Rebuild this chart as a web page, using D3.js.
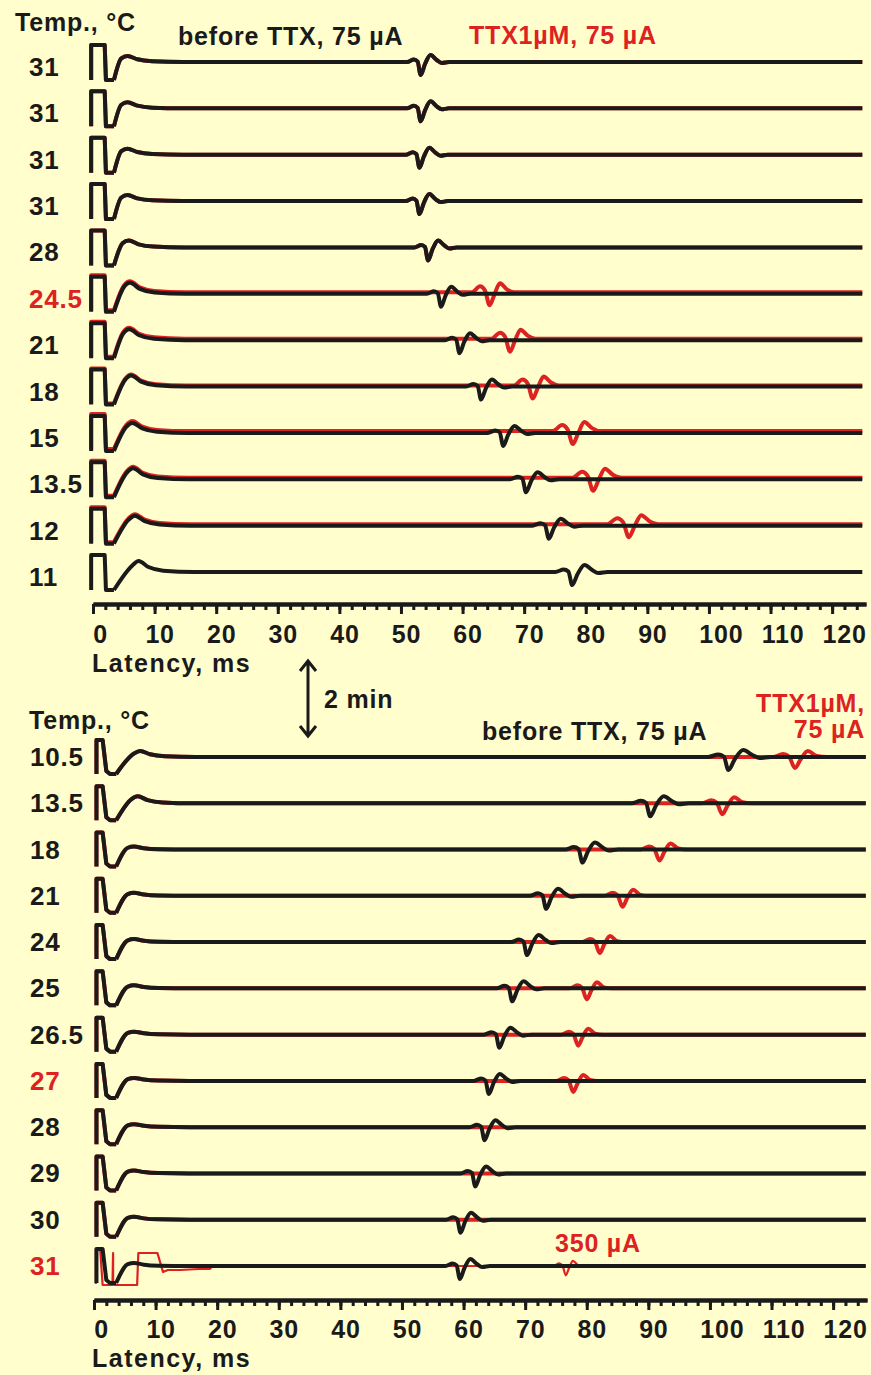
<!DOCTYPE html>
<html>
<head>
<meta charset="utf-8">
<script src="https://cdn.jsdelivr.net/npm/d3@7"></script>
<style>
body { margin: 0; background: #fffecc; }
svg { display: block; }
text { font-family: "Liberation Sans", Arial, Helvetica, sans-serif; font-weight: bold; letter-spacing: 0.8px; }
</style>
</head>
<body>
<div id="chart"></div>
<script>
// temperatures (row labels) and spike latencies, ms
var topTemps = ['31','31','31','31','28','24.5','21','18','15','13.5','12','11'];
var topLatBefore = [53.2, 53.2, 53, 53, 54.4, 56.5, 59.5, 63, 66.6, 70.3, 74, 77.8];
var topLatTTX = [53.2, 53.2, 53, 53, 54.4, 64.4, 67.7, 71.4, 77.9, 81.2, 87, null];
var topBump = [6, 6, 6, 6, 7, 11, 11, 11, 10, 11, 10, 11];
var topBumpAt = [5.6, 5.6, 5.6, 5.6, 5.8, 6.0, 5.9, 6.2, 6.4, 6.5, 6.8, 7.4];
var topRedShift = [0, 0, 0, 0, 0, 1.5, 1.5, 1, 1.8, 1.5, 1.5, 0];
var topRedRows = [5];

var botTemps = ['10.5','13.5','18','21','24','25','26.5','27','28','29','30','31'];
var botLatBefore = [103, 90.3, 79.3, 73.4, 70.3, 67.9, 65.8, 64.1, 63.4, 61.9, 59.5, 59.4];
var botLatTTX = [113.8, 102, 91.8, 85.8, 82.1, 80, 78.6, 77.8, null, null, null, 76.6];
var botBump = [6, 7, 3, 3, 3, 3, 3, 3, 3, 3, 3, 3];
var botBumpAt = [7.5, 7.1, 6.5, 6.5, 6.5, 6.5, 6.5, 6.5, 6.5, 6.5, 6.5, 6.5];
var botRedRows = [7, 11];

var majorTicks = d3.range(0, 121, 10);
var minorTicks = d3.range(0, 125, 2);

// waveform shapes: [ms, amplitude]
var artTop = [[-0.3,-18],[-0.3,17],[1.9,17],[2.1,-18],[3.4,-18]];
var artBot = [[0.4,-17],[0.4,17],[1.4,17],[2.0,-14],[2.6,-17],[3.6,-17]];
var art350 = [[0.3,-18],[0.3,17],[1.0,17],[1.4,-19],[3.0,-19],[3.1,13],[3.1,-19],[7.0,-19],[7.2,13],[10.3,13],[11.2,-6],[12,-4],[14,-4],[17,-3],[18.8,-3],[19.2,0]];
var spikeBlack = [[-2.2,0],[-1.1,2.5],[-0.5,0.5],[0,-13],[0.7,-2],[1.6,7],[2.6,2],[3.4,-1],[4.6,0]];
var spikeRedTop = [[-2.6,0],[-1.4,6],[-0.7,2],[0,-13],[0.7,-2],[1.5,9],[2.5,3],[3.6,0]];
var spikeRedBot = [[-2.2,0],[-1.2,3],[-0.6,0.5],[0,-11],[0.6,-2],[1.3,6],[2.2,1],[3.2,0]];

var red = '#dd2222';
var ink = '#1a1a1a';

var svg = d3.select('#chart').append('svg').attr('width', 871).attr('height', 1375);
svg.append('rect').attr('width', 871).attr('height', 1375).attr('fill', '#fffecc');

var amp = d3.scaleLinear().domain([-20, 20]).range([20, -20]);

function smoothPart(lastArt, bump, bumpAt, lat, tpl, tEnd) {
    var w = lat == null ? 1 : 1 + (lat - 53) / 100;
    var pts = [lastArt,
        [bumpAt - 1.0, bump * 0.6],
        [bumpAt, bump],
        [bumpAt + 1.6, bump * 0.45],
        [bumpAt + 4, bump * 0.12],
        [bumpAt + 9, 0]];
    if (lat != null) {
        tpl.forEach(function (p) { pts.push([lat + p[0] * w, p[1]]); });
    }
    pts.push([tEnd, 0]);
    return pts;
}

function drawPanel(opt) {
    var x = opt.x;
    var rowY = d3.scaleLinear().domain([0, 11]).range(opt.rows);
    var lineArt = d3.line().x(d => x(d[0])).y(d => amp(d[1]));
    var lineSm = d3.line().x(d => x(d[0])).y(d => amp(d[1])).curve(d3.curveMonotoneX);

    opt.temps.forEach(function (t, i) {
        var g = svg.append('g').attr('transform', `translate(0,${rowY(i)})`);
        var shift = opt.redShift ? opt.redShift[i] : 0;
        var gr = g.append('g').attr('transform', `translate(0,${-shift})`);
        var art = opt.art;
        var redTpl = opt.latT[i] == opt.latB[i] ? spikeBlack : opt.redSpike;
        if (!(opt.topNoRed && i == 11)) {
            if (opt.special350 && i == 11) {
                var pts = [art350[art350.length - 1], [opt.latT[i] - 2.6, 0]];
                spikeRedBot.forEach(p => pts.push([opt.latT[i] + p[0] * 0.9, p[1] * 0.85]));
                pts.push([opt.tEnd, 0]);
                gr.append('path').attr('d', lineArt(art350)).attr('fill', 'none')
                    .attr('stroke', red).attr('stroke-width', 2.2).attr('stroke-linejoin', 'round');
                gr.append('path').attr('d', lineSm(pts)).attr('fill', 'none')
                    .attr('stroke', red).attr('stroke-width', 2.2).attr('stroke-linejoin', 'round');
            } else {
                gr.append('path').attr('d', lineArt(art)).attr('fill', 'none')
                    .attr('stroke', red).attr('stroke-width', 4).attr('stroke-linejoin', 'round');
                gr.append('path').attr('d', lineSm(smoothPart(art[art.length - 1], opt.bump[i], opt.bumpAt[i], opt.latT[i], redTpl, opt.tEnd)))
                    .attr('fill', 'none').attr('stroke', red).attr('stroke-width', 4).attr('stroke-linejoin', 'round');
            }
        }
        g.append('path').attr('d', lineArt(art)).attr('fill', 'none')
            .attr('stroke', ink).attr('stroke-width', 4).attr('stroke-linejoin', 'round');
        g.append('path').attr('d', lineSm(smoothPart(art[art.length - 1], opt.bump[i], opt.bumpAt[i], opt.latB[i], spikeBlack, opt.tEnd)))
            .attr('fill', 'none').attr('stroke', ink).attr('stroke-width', 4).attr('stroke-linejoin', 'round');

        svg.append('text').attr('x', opt.labelX).attr('y', rowY(i) + opt.labelDy)
            .attr('font-size', 26).attr('fill', opt.redRows.indexOf(i) >= 0 ? red : ink).text(t);
    });

    var ax = svg.append('g').attr('transform', `translate(0,${opt.axisY})`);
    ax.call(d3.axisBottom(x).tickValues(minorTicks).tickSize(6).tickFormat('').tickSizeOuter(0));
    var ax2 = svg.append('g').attr('transform', `translate(0,${opt.axisY})`);
    ax2.call(d3.axisBottom(x).tickValues(majorTicks).tickSize(10).tickSizeOuter(0));
    [ax, ax2].forEach(function (a) {
        a.select('.domain').attr('stroke', ink).attr('stroke-width', 4);
        a.selectAll('.tick line').attr('stroke', ink).attr('stroke-width', 3);
    });
    ax2.selectAll('.tick text').attr('y', opt.tickLabelDy).attr('dy', 0).attr('dx', d => d == 0 ? 7 : (d >= 100 ? 12 : 5))
        .attr('font-size', 25).attr('fill', ink)
        .style('font-family', '"Liberation Sans", Arial, sans-serif').style('font-weight', 'bold');

    svg.append('text').attr('x', 92).attr('y', opt.latencyY).attr('font-size', 25).attr('fill', ink)
        .style('letter-spacing', '1.5px').text('Latency, ms');
}

var xTop = d3.scaleLinear().domain([0, 125.5]).range([93, 866]);
var xBot = d3.scaleLinear().domain([0, 125.5]).range([94, 867]);

drawPanel({x: xTop, rows: [62, 572], temps: topTemps, latB: topLatBefore, latT: topLatTTX,
    bump: topBump, bumpAt: topBumpAt, redShift: topRedShift, redRows: topRedRows, art: artTop,
    redSpike: spikeRedTop, tEnd: 124.9, labelX: 29, labelDy: 14, axisY: 604, tickLabelDy: 39,
    latencyY: 672, topNoRed: true});

drawPanel({x: xBot, rows: [757, 1266], temps: botTemps, latB: botLatBefore, latT: botLatTTX,
    bump: botBump, bumpAt: botBumpAt, redShift: null, redRows: botRedRows, art: artBot,
    redSpike: spikeRedBot, tEnd: 125.3, labelX: 30, labelDy: 9, axisY: 1300, tickLabelDy: 38,
    latencyY: 1367, special350: true});

// headers
svg.append('text').attr('x', 15).attr('y', 31).attr('font-size', 25).attr('fill', ink).text('Temp., °C');
svg.append('text').attr('x', 178).attr('y', 45).attr('font-size', 25).attr('fill', ink).text('before TTX, 75 µA');
svg.append('text').attr('x', 469).attr('y', 44).attr('font-size', 25).attr('fill', red).text('TTX1µM, 75 µA');

svg.append('text').attr('x', 29).attr('y', 729).attr('font-size', 25).attr('fill', ink).text('Temp., °C');
svg.append('text').attr('x', 482).attr('y', 740).attr('font-size', 25).attr('fill', ink).text('before TTX, 75 µA');
svg.append('text').attr('x', 865).attr('y', 712).attr('font-size', 25).attr('fill', red).attr('text-anchor', 'end').text('TTX1µM,');
svg.append('text').attr('x', 865).attr('y', 738).attr('font-size', 25).attr('fill', red).attr('text-anchor', 'end').text('75 µA');
svg.append('text').attr('x', 555).attr('y', 1252).attr('font-size', 25).attr('fill', red).text('350 µA');

// 2 min arrow
svg.append('path').attr('d', 'M308,662 L308,735 M300,671 L308,661 L316,671 M300,726 L308,736 L316,726')
    .attr('fill', 'none').attr('stroke', ink).attr('stroke-width', 3);
svg.append('text').attr('x', 324).attr('y', 708).attr('font-size', 25).attr('fill', ink).text('2 min');
</script>
</body>
</html>
